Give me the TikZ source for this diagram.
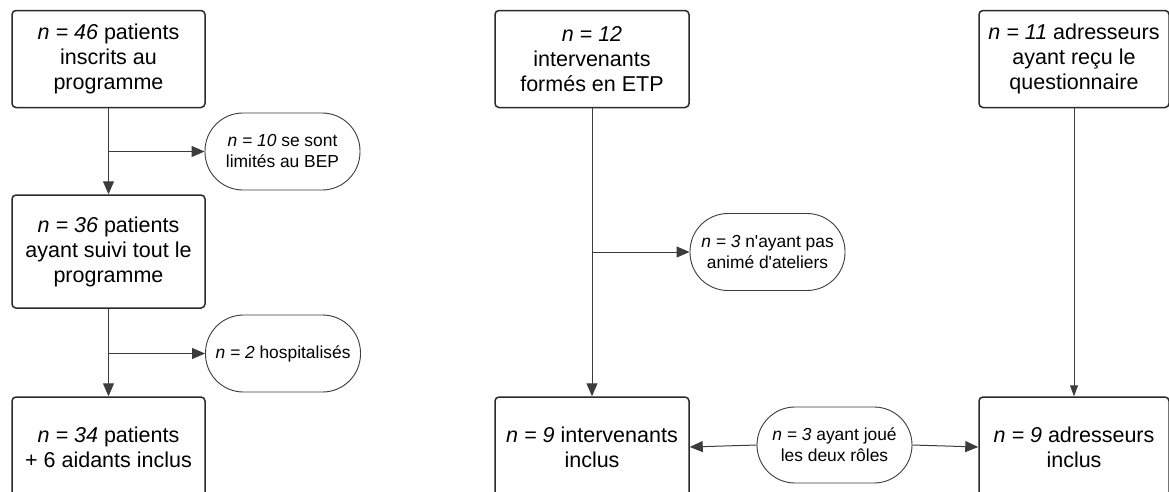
\documentclass[tikz,border=0pt]{standalone}
\usepackage{fontspec}
\setmainfont{Liberation Sans}[Ligatures=TeXOff]
\usetikzlibrary{arrows.meta}
\definecolor{trait}{HTML}{2A2A2A}
\definecolor{fleche}{HTML}{3C3C3C}
\begin{document}
\begin{tikzpicture}[x=1pt,y=-1pt,
    boite/.style={draw=trait,line width=1.5pt,rounded corners=4pt,align=center,inner sep=0pt,
      font=\fontsize{21.5}{25}\selectfont},
    bulle/.style={draw=fleche,line width=0.9pt,rounded corners=38pt,align=center,inner sep=0pt,
      minimum width=155pt,minimum height=77pt,font=\fontsize{17.4}{21}\selectfont},
    lien/.style={draw=fleche,line width=1pt,-{Triangle[length=13pt,width=11pt]}},
    lienfin/.style={draw=fleche,line width=1pt,-{Triangle[length=11pt,width=8pt]}}]
    \useasboundingbox (0,0) rectangle (1169,491);
    \node[boite,minimum width=193pt,minimum height=97pt] (inscrits) at (108.5,59)
      {\textit{n = 46} patients\\inscrits au\\programme};
    \node[boite,minimum width=193pt,minimum height=113pt] (suivi) at (108.5,251.5)
      {\textit{n = 36} patients\\ayant suivi tout le\\programme};
    \node[boite,minimum width=193pt,minimum height=100pt] (patients) at (108.5,447)
      {\textit{n = 34} patients\\+ 6 aidants inclus};
    \node[bulle] (bep) at (282.5,151.5) {\textit{n = 10} se sont\\limités au BEP};
    \node[bulle] (hosp) at (283,353.5) {\textit{n = 2} hospitalisés};
    \node[boite,minimum width=194pt,minimum height=97pt] (formes) at (592,59)
      {\textit{n = 12}\\intervenants\\formés en ETP};
    \node[boite,minimum width=194pt,minimum height=100pt] (interv) at (592,447)
      {\textit{n = 9} intervenants\\inclus};
    \node[bulle] (ateliers) at (767.5,252) {\textit{n = 3} n'ayant pas\\animé d'ateliers};
    \node[boite,minimum width=190pt,minimum height=97pt] (recu) at (1074,59)
      {\textit{n = 11} adresseurs\\ayant reçu le\\questionnaire};
    \node[boite,minimum width=190pt,minimum height=100pt] (adress) at (1074,447)
      {\textit{n = 9} adresseurs\\inclus};
    \node[bulle,minimum height=76pt] (roles) at (834.5,445) {\textit{n = 3} ayant joué\\les deux rôles};
    \draw[lien] (inscrits) -- (suivi);
    \draw[lien] (inscrits.south |- bep.west) -- (bep.west);
    \draw[lien] (suivi) -- (patients);
    \draw[lien] (suivi.south |- hosp.west) -- (hosp.west);
    \draw[lien] (formes) -- (interv);
    \draw[lien] (formes.south |- ateliers.west) -- (ateliers.west);
    \draw[lienfin] (recu) -- (adress);
    \draw[lien] (roles.west) -- (interv.east);
    \draw[lien] (roles.east) -- (adress.west);
\end{tikzpicture}
\end{document}
